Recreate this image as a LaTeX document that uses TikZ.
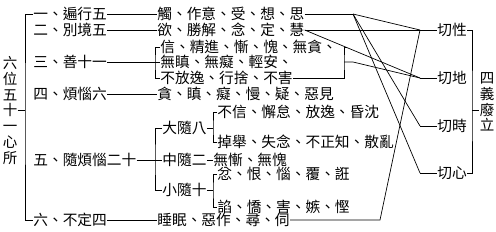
\documentclass[tikz,border=0pt]{standalone}
\usepackage{fontspec}
\newfontfamily\tcfont{Noto Sans CJK TC}
\begin{document}
\begin{tikzpicture}[x=1pt,y=-1pt, line width=0.7pt,
  txt/.style={anchor=west, inner sep=0pt, font=\tcfont\fontsize{14.7}{16}\selectfont},
  vtxt/.style={inner sep=0pt, align=center, font=\tcfont\fontsize{14.5}{15.8}\selectfont}]
\useasboundingbox (0,0) rectangle (496,231);
\fill[white] (0,0) rectangle (496,231);
% title
\node[vtxt] (title) at (10,110.5) {六\\位\\五\\十\\一\\心\\所};
\coordinate (bk) at (25,110.5);
% rows
\node[txt] (r1) at (33,14) {一、遍行五};
\node[txt] (r2) at (33,30) {二、別境五};
\node[txt] (r3) at (33,62) {三、善十一};
\node[txt] (r4) at (33,94) {四、煩惱六};
\node[txt] (r5) at (33,160) {五、隨煩惱二十};
\node[txt] (r6) at (33,220) {六、不定四};
% items
\node[txt] (i1) at (157,14) {觸、作意、受、想、思};
\node[txt] (i2) at (157,30) {欲、勝解、念、定、慧};
\node[txt] (i3a) at (160,47) {信、精進、慚、愧、無貪、};
\node[txt] (i3b) at (160,62) {無瞋、無癡、輕安、};
\node[txt] (i3c) at (160,78) {不放逸、行捨、不害};
\node[txt] (i4) at (157,94) {貪、瞋、癡、慢、疑、惡見};
\node[txt] (s1) at (162,128) {大隨八};
\node[txt] (s2) at (162,160) {中隨二};
\node[txt] (s3) at (162,190) {小隨十};
\node[txt] (d1) at (217,112) {不信、懈怠、放逸、昏沈};
\node[txt] (d2) at (217,142) {掉舉、失念、不正知、散亂};
\node[txt] (m) at (213,160) {無慚、無愧};
\node[txt] (x1) at (217,174) {忿、恨、惱、覆、誑};
\node[txt] (x2) at (217,207) {諂、憍、害、嫉、慳};
\node[txt] (i6) at (157,220) {睡眠、惡作、尋、伺};
% right nodes
\node[txt] (t1) at (437,30) {切性};
\node[txt] (t2) at (437,78) {切地};
\node[txt] (t3) at (437,126) {切時};
\node[txt] (t4) at (437,173) {切心};
\node[vtxt] (fy) at (487,102) {四\\義\\廢\\立};
% coordinates
\coordinate (k3) at (155,62);
\coordinate (k5) at (155,160);
\coordinate (k6) at (213,128);
\coordinate (k7) at (213,190);
\coordinate (p1) at (353,14);
\coordinate (rb) at (344,62);
\coordinate (rb2) at (353,62);
\coordinate (p6) at (380,220);
\coordinate (q1) at (420,30);
\coordinate (q2) at (420,78);
\coordinate (q3) at (420,126);
\coordinate (q4) at (420,173);
\coordinate (kr) at (472,110);
% left bracket
\draw (title.east |- bk) -- (bk);
\draw (r1.west) -| (bk) |- (r6.west);
% row connectors
\draw (r1.east) -- (i1.west);
\draw (r2.east) -- (i2.west);
\draw (r3.east) -- (i3b.west);
\draw (i3a.west) -| (k3) |- (i3c.west);
\draw (r4.east) -- (i4.west);
\draw (r5.east) -- (s2.west);
\draw (s1.west) -| (k5) |- (s3.west);
\draw (s1.east) -- (k6);
\draw (d1.west) -| (k6) |- (d2.west);
\draw (s2.east) -- (m.west);
\draw (s3.east) -- (k7);
\draw (x1.west) -| (k7) |- (x2.west);
\draw (r6.east) -- (i6.west);
% right side
\draw (i1.east) -- (p1);
\draw (p1) -- (q1);
\draw (p1) -- (q3);
\draw (p1) -- (q4);
\draw (i2.east) -- (q1);
\draw (i2.east) -- (q2);
\draw ([xshift=10pt]i3a.east) -| (rb) |- (i3c.east);
\draw (rb) -- (rb2) -- (q2);
\draw (i6.east) -- (p6) -- (q1);
\draw (q1) -- (t1.west);
\draw (q2) -- (t2.west);
\draw (q3) -- (t3.west);
\draw (q4) -- (t4.west);
\draw (t1.east) -| (kr) |- (t4.east);
\draw (kr) -- (kr -| fy.west);
\end{tikzpicture}
\end{document}
